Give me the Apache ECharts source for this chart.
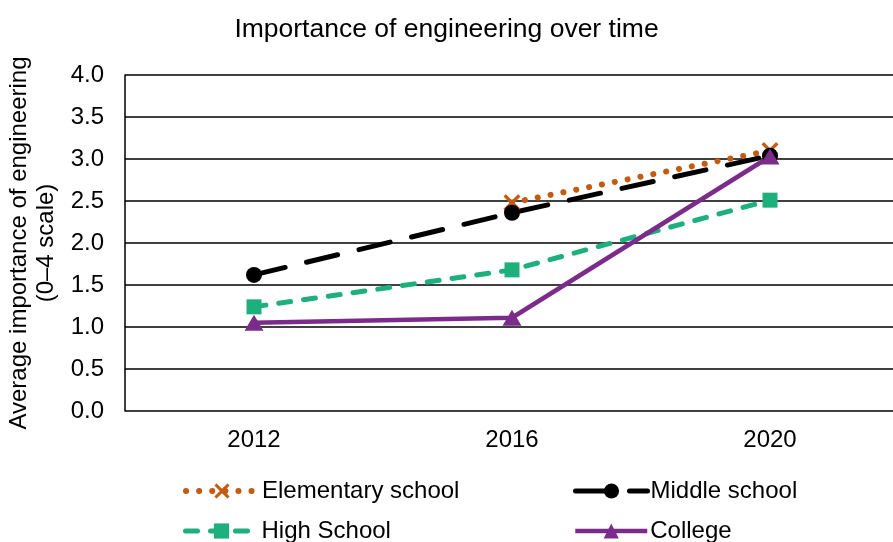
<!DOCTYPE html>
<html>
<head>
<meta charset="utf-8">
<script src="https://cdn.jsdelivr.net/npm/echarts@6/dist/echarts.min.js"></script>
<style>
  html, body { margin: 0; padding: 0; background: #fff; }
  #chart { width: 893px; height: 542px; }
</style>
</head>
<body>
<div id="chart"></div>
<script>
  // 数据
  var years = ["2012", "2016", "2020"];
  var elementary = [null, 2.48, 3.1];
  var middle = [1.62, 2.36, 3.04];
  var high = [1.24, 1.68, 2.51];
  var college = [1.05, 1.11, 3.03];
  var yTicks = [0, 0.5, 1, 1.5, 2, 2.5, 3, 3.5, 4];

  var FONT = "Liberation Sans";
  var crossPath = "path://M0,1.4 L1.4,0 L5,3.6 L8.6,0 L10,1.4 L6.4,5 L10,8.6 L8.6,10 L5,6.4 L1.4,10 L0,8.6 L3.6,5 Z";

  // 线型
  var styles = {
    "Elementary school": { color: "#C55A11", width: 6, type: [0.1, 13], cap: "round" },
    "Middle school": { color: "#000", width: 5, type: [32, 22], cap: "round" },
    "High School": { color: "#1DB07D", width: 5, type: [12, 13], cap: "round" },
    "College": { color: "#7B2C8A", width: 4.5, type: "solid", cap: "butt" }
  };

  // 图例：每项单独定位（两列）
  function legendItem(name, left, top, textLeft) {
    return {
      data: [name],
      left: left,
      top: top,
      itemWidth: 72,
      itemHeight: 19,
      itemGap: 0,
      lineStyle: styles[name],
      textStyle: { fontFamily: FONT, fontSize: 24, color: "#000", padding: [0, 0, 0, textLeft] }
    };
  }

  var chartObj = echarts.init(document.getElementById("chart"));

  var option = {
    animation: false,
    textStyle: { fontFamily: FONT },
    title: {
      text: "Importance of engineering over time",
      left: "center",
      top: 11,
      textStyle: { fontFamily: FONT, fontSize: 26.5, fontWeight: "normal", color: "#000" }
    },
    grid: {
      left: 125,
      top: 75,
      width: 774,
      height: 336,
      containLabel: false,
      outerBoundsMode: "none"
    },
    legend: [
      legendItem("Elementary school", 178, 474, -1),
      legendItem("High School", 178, 514, -1),
      legendItem("Middle school", 568, 474, -2),
      legendItem("College", 568, 514, -2)
    ],
    xAxis: {
      type: "category",
      data: years,
      boundaryGap: true,
      axisLine: { show: false },
      axisTick: { show: false },
      axisLabel: { fontFamily: FONT, fontSize: 24, color: "#000", margin: 17 }
    },
    yAxis: {
      type: "value",
      min: 0,
      max: 4,
      interval: 0.5,
      name: "Average importance of engineering\n(0–4 scale)",
      nameLocation: "middle",
      nameGap: 64,
      nameTextStyle: { fontFamily: FONT, fontSize: 24, color: "#000", lineHeight: 27 },
      axisLine: { show: true, lineStyle: { color: "#000", width: 1.5 } },
      axisTick: { show: false },
      splitLine: { show: true, lineStyle: { color: "#000", width: 1.5 } },
      axisLabel: {
        fontFamily: FONT, fontSize: 24, color: "#000", margin: 21,
        formatter: function (v) { return yTicks.indexOf(v) >= 0 ? v.toFixed(1) : ""; }
      }
    },
    series: [{
      name: "Elementary school",
      type: "line",
      data: elementary,
      symbol: crossPath,
      symbolSize: 17,
      itemStyle: { color: "#C55A11" },
      lineStyle: styles["Elementary school"]
    }, {
      name: "Middle school",
      type: "line",
      data: middle,
      symbol: "circle",
      symbolSize: 16,
      itemStyle: { color: "#000" },
      lineStyle: styles["Middle school"]
    }, {
      name: "High School",
      type: "line",
      data: high,
      symbol: "rect",
      symbolSize: 15,
      itemStyle: { color: "#1DB07D" },
      lineStyle: styles["High School"]
    }, {
      name: "College",
      type: "line",
      data: college,
      symbol: "triangle",
      symbolSize: [19, 16],
      itemStyle: { color: "#7B2C8A" },
      lineStyle: styles["College"]
    }]
  };

  chartObj.setOption(option, true);
  window.addEventListener("resize", function () {
    chartObj.resize();
  });
</script>
</body>
</html>
